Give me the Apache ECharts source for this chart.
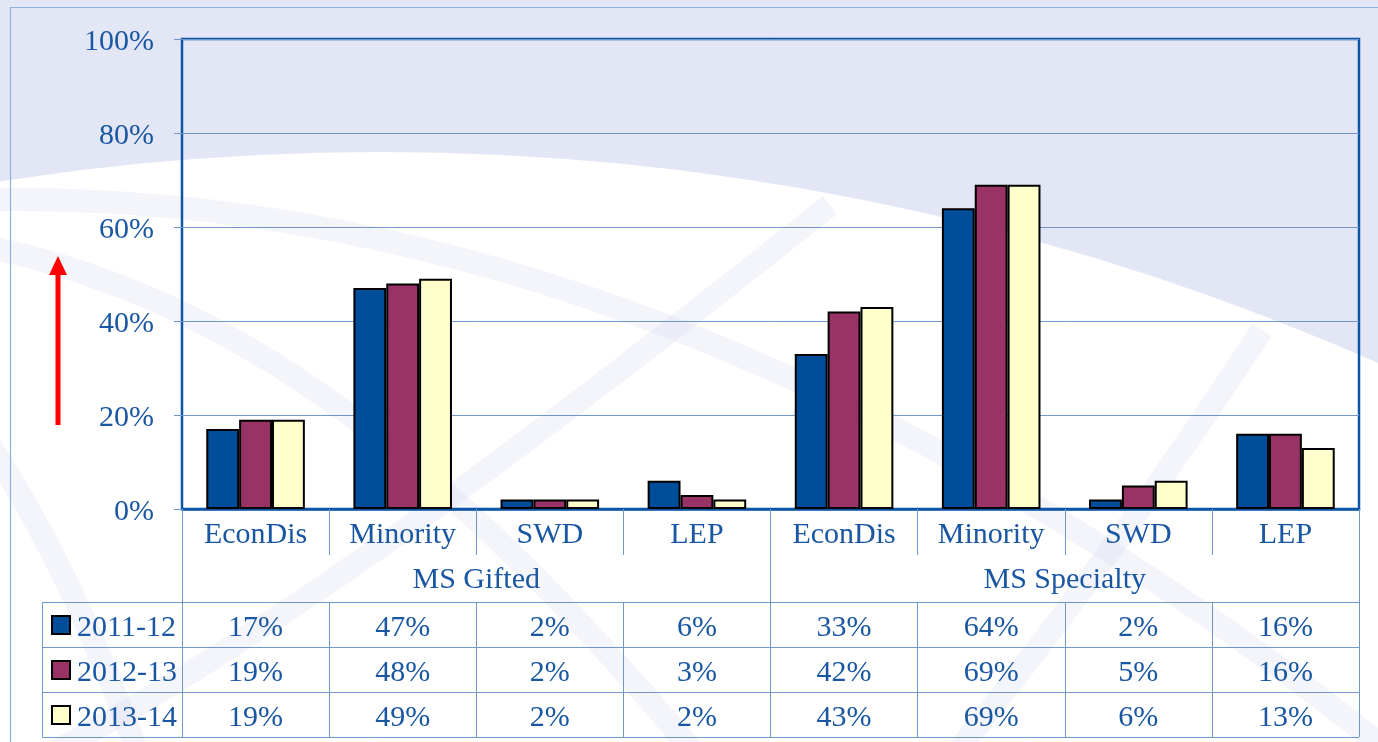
<!DOCTYPE html>
<html><head><meta charset="utf-8">
<script src="https://cdn.jsdelivr.net/npm/echarts@6/dist/echarts.min.js"></script>
<style>html,body{margin:0;padding:0;background:#e3e6f4}#c{width:1378px;height:742px}</style>
</head><body><div id="c"></div>
<script>
const categories = ['EconDis','Minority','SWD','LEP','EconDis','Minority','SWD','LEP'];
const groups = ['MS Gifted','MS Specialty'];
const seriesNames = ['2011-12','2012-13','2013-14'];
const v2011 = [17,47,2,6,33,64,2,16];
const v2012 = [19,48,2,3,42,69,5,16];
const v2013 = [19,49,2,2,43,69,6,13];
const yMax = 100, yStep = 20;

const FONT = 'Liberation Serif';
const FS = 30;
const TXT = '#1a57a3';
const GRIDC = '#6f97cc';
const BORDER = '#0d56a6';
const colors = ['#004d99','#993366','#ffffcc'];
const G = {left:182, top:39, right:1359, bottom:509};

const chart = echarts.init(document.getElementById('c'), null, {renderer:'canvas'});
const values = [v2011, v2012, v2013];

function rowAxis(data, offset, tickLen, showLine, margin) {
  return {
    type:'category', gridIndex:0, position:'bottom', offset:offset, data:data,
    axisLine:{show:showLine, lineStyle:{color:GRIDC, width:1}},
    axisTick:{show:true, length:tickLen, lineStyle:{color:GRIDC, width:1}},
    axisLabel:{show:true, interval:0, margin:margin, verticalAlign:'middle',
      fontFamily:FONT, fontSize:FS, color:TXT},
    splitLine:{show:false}
  };
}

const xAxes = [
  Object.assign(rowAxis(categories, 0, 46, true, 26), {axisLine:{show:true, lineStyle:{color:BORDER, width:2.5}}}),
  rowAxis(groups, 46, 47, false, 25),
  rowAxis(v2011.map(v => v + '%'), 93, 45, true, 26),
  rowAxis(v2012.map(v => v + '%'), 138, 45, true, 26),
  rowAxis(v2013.map(v => v + '%'), 183, 45, true, 26)
];

const bandStyle = {stroke:'rgba(190,196,232,0.17)', lineWidth:23, fill:null};
const graphic = [
  {type:'circle', z:-100, silent:true, shape:{cx:380, cy:2618, r:2466}, style:{fill:'#ffffff'}},
  {type:'bezierCurve', z:-99, silent:true, shape:{x1:-20, y1:200, cpx1:420, cpy1:190, cpx2:900, cpy2:360, x2:1400, y2:760}, style:bandStyle},
  {type:'bezierCurve', z:-99, silent:true, shape:{x1:-20, y1:245, cpx1:200, cpy1:290, cpx2:420, cpy2:420, x2:700, y2:760}, style:bandStyle},
  {type:'bezierCurve', z:-99, silent:true, shape:{x1:40, y1:760, cpx1:300, cpy1:620, cpx2:560, cpy2:420, x2:830, y2:205}, style:bandStyle},
  {type:'bezierCurve', z:-99, silent:true, shape:{x1:950, y1:760, cpx1:1080, cpy1:600, cpx2:1190, cpy2:440, x2:1262, y2:330}, style:bandStyle},
  {type:'bezierCurve', z:-99, silent:true, shape:{x1:-20, y1:430, cpx1:40, cpy1:520, cpx2:90, cpy2:620, x2:140, y2:760}, style:bandStyle},
  // outer frame
  {type:'polyline', z:-50, silent:true, shape:{points:[[10.5,760],[10.5,7.5],[1400,7.5]]}, style:{stroke:'#8eb0dc', lineWidth:1.2, fill:null}},
  // table lines outside the axes
  {type:'polyline', z:5, silent:true, shape:{points:[[G.left,602.5],[42.5,602.5],[42.5,737.5],[G.right,737.5]]}, style:{stroke:GRIDC, lineWidth:1, fill:null}},
  {type:'line', z:5, silent:true, shape:{x1:42.5, y1:647.5, x2:G.left, y2:647.5}, style:{stroke:GRIDC, lineWidth:1}},
  {type:'line', z:5, silent:true, shape:{x1:42.5, y1:692.5, x2:G.left, y2:692.5}, style:{stroke:GRIDC, lineWidth:1}},
  // red arrow
  {type:'line', z:50, silent:true, shape:{x1:58, y1:425, x2:58, y2:272}, style:{stroke:'#ff0000', lineWidth:5}},
  {type:'polygon', z:50, silent:true, shape:{points:[[49,275],[67,275],[58,256]]}, style:{fill:'#ff0000'}}
];

const legendTops = [607, 652, 697];
const legends = seriesNames.map((n, i) => ({
  orient:'vertical', left:51, top:legendTops[i], itemWidth:18, itemHeight:18,
  icon:'rect', data:[n], selectedMode:false, padding:0,
  formatter:'{a|{name}}',
  textStyle:{fontFamily:FONT, fontSize:FS, color:TXT,
    rich:{a:{fontFamily:FONT, fontSize:FS, color:TXT, lineHeight:30, padding:[6,0,0,2]}}}
}));

const option = {
  backgroundColor:'#e3e6f4',
  animation:false,
  grid:{left:G.left, top:G.top, right:1378-G.right, bottom:742-G.bottom, show:true,
    borderColor:BORDER, borderWidth:2.5, backgroundColor:'transparent', containLabel:false},
  legend:legends,
  xAxis:xAxes,
  yAxis:{type:'value', min:0, max:yMax, interval:yStep,
    axisLine:{show:false},
    axisTick:{show:true, length:8, lineStyle:{color:GRIDC, width:1}},
    axisLabel:{formatter:'{value}%', fontFamily:FONT, fontSize:FS, color:TXT, margin:28,
      verticalAlign:'top', lineHeight:6},
    splitLine:{show:true, lineStyle:{color:GRIDC, width:1}}},
  series: seriesNames.map((n,i) => ({
    name:n, type:'bar', xAxisIndex:0, data:values[i],
    barGap:'0%', barCategoryGap:'33%',
    itemStyle:{color:colors[i], borderColor:'#000000', borderWidth:2},
    z:3
  })),
  graphic:graphic
};
chart.setOption(option);
</script></body></html>
